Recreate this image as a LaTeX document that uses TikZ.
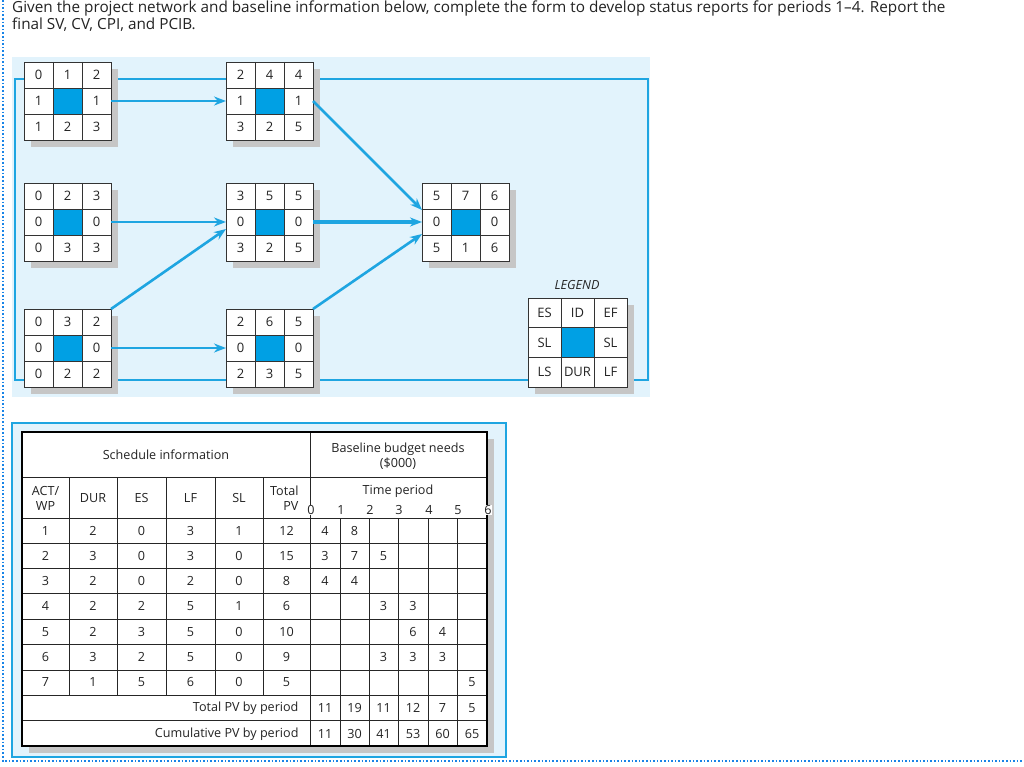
\documentclass[tikz,border=0pt]{standalone}
\usepackage{fontspec}
\setmainfont{Open Sans}
\usetikzlibrary{arrows.meta}
\definecolor{ablue}{RGB}{30,165,225}
\definecolor{cellblue}{RGB}{0,160,228}
\definecolor{panel}{RGB}{226,243,252}
\definecolor{txt}{RGB}{35,35,35}
\tikzset{
  arr/.style={ablue,line width=2.6pt,-{Stealth[length=12pt,width=9pt]}},
  cell/.style={font=\fontsize{13}{15}\selectfont,text=txt},
  tb/.style={font=\fontsize{12.6}{15}\selectfont,text=txt},
}
\def\cw{29}\def\ch{26}
% name, x, y, top row, mid-left, mid-right, bottom row
\newcommand\nbox[7]{%
  \fill[gray!45] (#2+7,#3+7) rectangle ++(3*\cw,3*\ch);
  \node[draw=black!80,line width=0.9pt,fill=white,inner sep=0,outer sep=0,anchor=north west,
        minimum width=3*\cw pt,minimum height=3*\ch pt] (#1) at (#2,#3) {};
  \fill[cellblue] (#2+\cw,#3+\ch) rectangle ++(\cw,\ch);
  \draw[black!80,line width=0.9pt] (#2+\cw,#3) -- ++(0,3*\ch) (#2+2*\cw,#3) -- ++(0,3*\ch)
     (#2,#3+\ch) -- ++(3*\cw,0) (#2,#3+2*\ch) -- ++(3*\cw,0);
  \foreach \t [count=\i from 0] in {#4} \node[cell] at (#2+\cw/2+\i*\cw,#3+\ch/2) {\t};
  \node[cell] at (#2+\cw/2,#3+1.5*\ch) {#5};
  \node[cell] at (#2+2.5*\cw,#3+1.5*\ch) {#6};
  \foreach \t [count=\i from 0] in {#7} \node[cell] at (#2+\cw/2+\i*\cw,#3+2.5*\ch) {\t};
}
\begin{document}
\begin{tikzpicture}[x=1pt,y=-1pt]
\useasboundingbox (0,0) rectangle (1024,767);
\fill[white] (0,0) rectangle (1024,767);
\draw[ablue!80!blue,line width=1.6pt,dotted] (3,0) -- (3,761) -- (1024,761);
\node[anchor=north west,inner sep=0,text=txt,font=\fontsize{15.3}{17}\selectfont,align=left] (q) at (12,1)
 {Given the project network and baseline information below, complete the form to develop status reports for periods 1–4. Report the\\final SV, CV, CPI, and PCIB.};
% network panel
\fill[panel] (12,57) rectangle (650,397);
\draw[ablue,line width=1.2pt] (15,79) rectangle (648,380);
\nbox{a1}{24}{62}{0,1,2}{1}{1}{1,2,3}
\nbox{a2}{24}{183}{0,2,3}{0}{0}{0,3,3}
\nbox{a3}{24}{309}{0,3,2}{0}{0}{0,2,2}
\nbox{b1}{226}{62}{2,4,4}{1}{1}{3,2,5}
\nbox{b2}{226}{183}{3,5,5}{0}{0}{3,2,5}
\nbox{b3}{226}{309}{2,6,5}{0}{0}{2,3,5}
\nbox{c2}{422}{183}{5,7,6}{0}{0}{5,1,6}
\def\cw{33}\def\ch{29.7}
\nbox{lg}{528}{298}{ES,ID,EF}{SL}{SL}{LS,DUR,LF}
\node[cell,font=\fontsize{12.6}{15}\itshape] (lgt) at (577,285) {LEGEND};
\draw[arr] (a1.east) -- (b1.west);
\draw[arr] (a2.east) -- (b2.west);
\draw[arr] (a3.east) -- (b3.west);
\draw[arr] (a3.north east) -- ([yshift=-7pt]b2.west);
\draw[arr] (b1.east) -- ([yshift=12pt]c2.west);
\draw[arr,line width=3.8pt] (b2.east) -- (c2.west);
\draw[arr] (b3.north east) -- ([yshift=-12pt]c2.west);
% table panel
\fill[panel] (12,423) rectangle (506,757);
\draw[ablue,line width=2pt] (12,423) rectangle (506,757);
\fill[gray!45] (29,439) rectangle (494,753);
\fill[white] (22,432) rectangle (487,746);
\draw[black!85,line width=0.8pt]
  (22,477) -- (487,477) (22,518) -- (487,518)
  (310,432) -- (310,746)
  \foreach \x in {69,117,166,215,263} {(\x,477) -- (\x,695)}
  \foreach \x in {340,369,398,428,457} {(\x,518) -- (\x,746)}
  \foreach \y in {543,568,593,619,644,670,695,720} {(22,\y) -- (487,\y)};
\draw[black,line width=1.8pt] (22,432) rectangle (487,746);
\node[tb] (sch) at (166,455) {Schedule information};
\node[tb,align=center] (bud) at (398,456) {Baseline budget needs\\(\$000)};
\node[tb,align=center] (h1) at (45.5,498) {ACT/\\WP};
\node[tb] (h2) at (93,498) {DUR};
\node[tb] (h3) at (141.5,498) {ES};
\node[tb] (h4) at (190.5,498) {LF};
\node[tb] (h5) at (239,498) {SL};
\node[tb,align=right,anchor=east] (h6) at (302,498) {Total\\PV};
\node[tb] (tp) at (398,491) {Time period};
\foreach \t [count=\i from 0] in {310,340,369,398,428,457,487}
  \node[tb,fill=white,inner sep=0.5pt] at (\t+1,510) {\i};
\foreach \r [count=\j from 0] in {
  {1,2,0,3,1,12,4,8,,,,},
  {2,3,0,3,0,15,3,7,5,,,},
  {3,2,0,2,0,8,4,4,,,,},
  {4,2,2,5,1,6,,,3,3,,},
  {5,2,3,5,0,10,,,,6,4,},
  {6,3,2,5,0,9,,,3,3,3,},
  {7,1,5,6,0,5,,,,,,5}} {
  \foreach \t [count=\k from 0] in \r {
    \pgfmathsetmacro\xx{{45.5,93,141.5,190.5,239,286.5,325,354.5,383.5,413,442.5,472}[\k]}
    \node[tb] at (\xx,530.5+\j*25.3) {\t};
  }
}
\node[tb,anchor=east] (tpv) at (302,708) {Total PV by period};
\node[tb,anchor=east] (cpv) at (302,734) {Cumulative PV by period};
\foreach \t [count=\k from 0] in {11,19,11,12,7,5} {
  \pgfmathsetmacro\xx{{325,354.5,383.5,413,442.5,472}[\k]}
  \node[tb] at (\xx,708) {\t};}
\foreach \t [count=\k from 0] in {11,30,41,53,60,65} {
  \pgfmathsetmacro\xx{{325,354.5,383.5,413,442.5,472}[\k]}
  \node[tb] at (\xx,734) {\t};}
\end{tikzpicture}
\end{document}
